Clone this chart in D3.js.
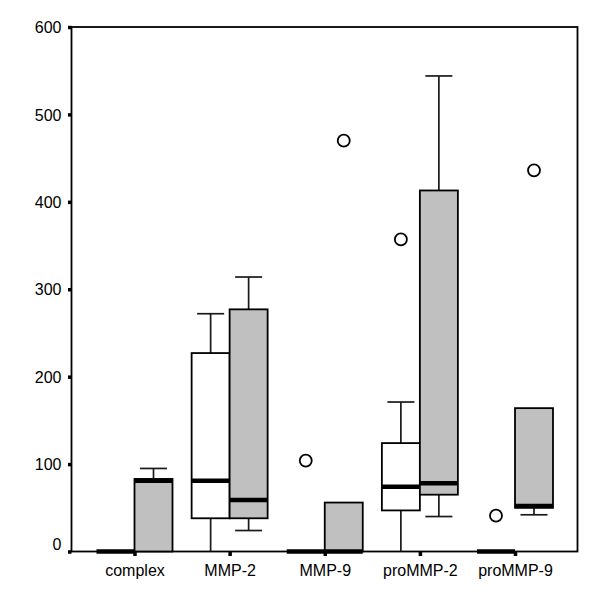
<!DOCTYPE html>
<html>
<head>
<meta charset="utf-8">
<script src="https://cdn.jsdelivr.net/npm/d3@7"></script>
<style>
  body { margin: 0; background: #fff; }
  svg text { font-family: "Liberation Sans", Arial, sans-serif; fill: #000; }
</style>
</head>
<body>
<div id="chart"></div>
<script>
// groups along the x axis
const categories = ["complex", "MMP-2", "MMP-9", "proMMP-2", "proMMP-9"];
const yTicks = [0, 100, 200, 300, 400, 500, 600];

// white boxes (left of each tick)
const lowA  = [0, 0, 0, 0, 0];
const q1A   = [0, 38, 0, 47, 0];
const medA  = [0, 81, 0, 74, 0];
const q3A   = [0, 227, 0, 124, 0];
const highA = [0, 272, 0, 171, 0];
const outA  = [[], [], [104], [357], [41]];

// grey boxes (right of each tick)
const lowB  = [0, 24, 0, 40, 42];
const q1B   = [0, 38, 0, 65, 50];
const medB  = [81, 59, 0, 78, 52];
const q3B   = [83, 277, 56, 413, 164];
const highB = [95, 314, 56, 544, 164];
const outB  = [[], [], [470], [], [436]];

var width = 600, height = 597;
var plotL = 71.5, plotR = 577.5, plotT = 27, plotB = 551.5;
var boxW = 38, capW = 27;

var svg = d3.select("#chart")
  .append("svg")
    .attr("width", width)
    .attr("height", height);

var y = d3.scaleLinear().domain([0, 600]).range([plotB, plotT]);
var x = d3.scalePoint().domain(categories).range([134.5, 515]);

// frame
svg.append("rect")
  .attr("x", plotL).attr("y", plotT)
  .attr("width", plotR - plotL).attr("height", plotB - plotT)
  .attr("fill", "none").attr("stroke", "#000").attr("stroke-width", 1.8);

// y axis with little square ticks
var yAxis = svg.append("g")
  .attr("transform", `translate(${plotL},0)`)
  .call(d3.axisLeft(y).tickValues(yTicks).tickSize(3.5).tickPadding(6.5));
yAxis.select(".domain").remove();
yAxis.selectAll(".tick line").attr("stroke", "#000").attr("stroke-width", 3.5);
yAxis.selectAll(".tick text")
  .style("font-size", "16px")
  .attr("dy", d => d === 0 ? "-0.1em" : "0.35em");

// x axis
var xAxis = svg.append("g")
  .attr("transform", `translate(0,${plotB})`)
  .call(d3.axisBottom(x).tickSize(4.5).tickPadding(8.5));
xAxis.select(".domain").remove();
xAxis.selectAll(".tick line").attr("stroke", "#000").attr("stroke-width", 3.5);
xAxis.selectAll(".tick text").style("font-size", "16px");

function drawGroup(low, q1, med, q3, high, out, side, fill)
{
  var g = svg.append("g");
  categories.forEach(function(c, i) {
    var x0 = side < 0 ? x(c) - boxW : x(c);
    var xm = x0 + boxW / 2;

    // whiskers
    if (high[i] > q3[i]) {
      g.append("line").attr("x1", xm).attr("x2", xm)
        .attr("y1", y(q3[i])).attr("y2", y(high[i]))
        .attr("stroke", "#1a1a1a").attr("stroke-width", 1.7);
      g.append("line").attr("x1", xm - capW / 2).attr("x2", xm + capW / 2)
        .attr("y1", y(high[i])).attr("y2", y(high[i]))
        .attr("stroke", "#1a1a1a").attr("stroke-width", 1.7);
    }
    if (low[i] < q1[i]) {
      g.append("line").attr("x1", xm).attr("x2", xm)
        .attr("y1", y(q1[i])).attr("y2", y(low[i]))
        .attr("stroke", "#1a1a1a").attr("stroke-width", 1.7);
      if (low[i] > 0) {
        g.append("line").attr("x1", xm - capW / 2).attr("x2", xm + capW / 2)
          .attr("y1", y(low[i])).attr("y2", y(low[i]))
          .attr("stroke", "#1a1a1a").attr("stroke-width", 1.7);
      }
    }

    // box
    if (q3[i] > q1[i]) {
      g.append("rect")
        .attr("x", x0).attr("y", y(q3[i]))
        .attr("width", boxW).attr("height", y(q1[i]) - y(q3[i]))
        .attr("fill", fill).attr("stroke", "#000").attr("stroke-width", 1.8);
    }

    // median
    g.append("line").attr("x1", x0).attr("x2", x0 + boxW)
      .attr("y1", y(med[i])).attr("y2", y(med[i]))
      .attr("stroke", "#000").attr("stroke-width", 4.5);

    // outliers
    out[i].forEach(function(v) {
      g.append("circle").attr("cx", xm).attr("cy", y(v)).attr("r", 6)
        .attr("fill", "#fff").attr("stroke", "#000").attr("stroke-width", 1.8);
    });
  });
}

drawGroup(lowA, q1A, medA, q3A, highA, outA, -1, "#fff");
drawGroup(lowB, q1B, medB, q3B, highB, outB, 1, "#c0c0c0");
</script>
</body>
</html>
